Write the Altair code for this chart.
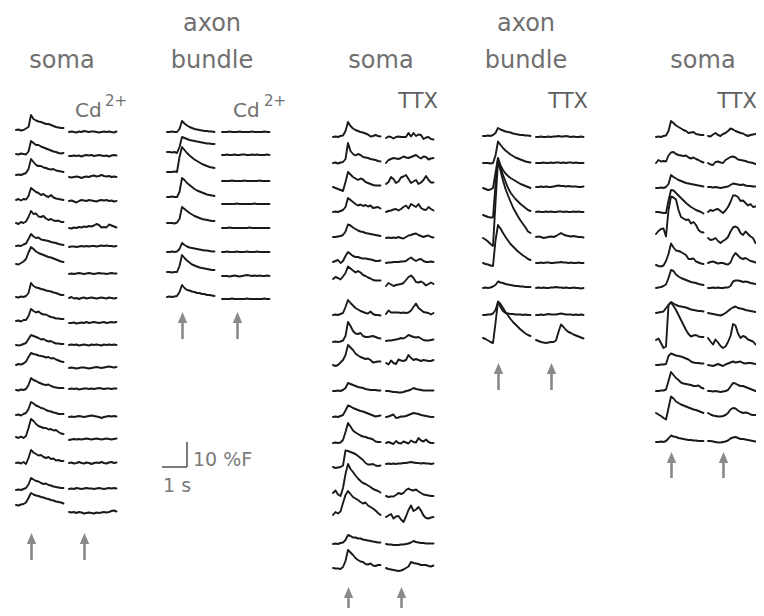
import altair as alt
import pandas as pd

# ---------------- data: dF/F traces in %F, one sample every 0.1 s ----------------
DT = 0.1

G1_SOMA = [
    [0,0.2,-0.2,0,0.6,1.2,6.0,4.4,3.8,3.4,3.2,2.8,2.4,2.4,2.0,1.6,1.2,1.0,0.8,0.8],
    [0,-0.2,0.2,0,-0.2,1.0,5.2,4.4,3.6,3.6,3.0,2.6,2.2,1.8,1.4,1.0,0.8,0.4,0.2,0.4],
    [0,0.2,0,0.4,0.8,2.4,6.4,5.2,4.0,3.6,3.6,3.0,2.8,2.4,2.2,2.4,1.8,1.6,1.4,1.2],
    [0,0.4,-0.2,0.4,0.2,1.6,4.8,4.0,3.2,2.8,2.0,2.4,1.6,1.2,2.0,1.0,0.6,0.4,0.2,0],
    [0,-0.4,0.4,0,0.6,2.4,4.8,3.6,3.8,2.6,2.4,2.8,1.8,1.2,1.6,1.0,0.8,1.0,0.4,0.4],
    [0,0.2,0,0.6,1.0,2.8,4.8,3.8,3.2,3.4,2.6,2.4,2.2,2.0,1.6,1.4,1.2,0.8,0.6,0.4],
    [0,-0.2,0.4,1.0,2.0,4.6,6.8,6.0,5.0,4.4,4.0,3.6,3.2,2.8,2.6,2.2,1.8,1.4,1.0,0.8],
    [0,-0.2,0.2,0,0.4,1.6,5.6,4.4,3.8,3.6,3.2,3.0,2.6,2.4,2.2,1.8,1.6,1.2,0.8,0.8],
    [0,0.2,-0.2,0.4,0.4,2.0,4.8,4.0,3.4,3.8,3.0,2.6,2.6,2.0,1.6,1.4,1.0,1.0,0.8,0.8],
    [0,-0.2,0,0.4,0.8,2.4,4.0,3.6,3.2,2.8,2.2,2.4,1.8,1.4,1.6,1.0,0.6,0.6,0.4,0.4],
    [0,0.4,0.2,0.6,1.4,3.2,4.8,4.4,4.2,3.8,3.6,3.4,3.0,3.2,2.6,2.8,2.2,1.8,1.4,1.2],
    [0,-0.2,0.2,0,0.4,2.0,4.8,4.0,3.6,3.0,2.6,2.2,2.0,2.2,1.6,1.2,1.0,0.8,0.8,0.8],
    [0,0.2,-0.2,0.4,0.8,2.4,5.2,4.6,3.8,3.4,2.8,2.6,2.0,1.6,1.4,1.0,0.8,0.4,0.4,0.4],
    [0,-0.4,0.2,-0.4,0.4,3.6,7.2,6.4,5.2,4.4,4.0,3.6,3.6,3.0,3.2,2.6,2.8,2.0,1.4,1.2],
    [0,0.2,-0.2,0.4,-0.4,2.0,5.2,4.2,3.6,3.0,3.2,2.4,2.0,2.4,1.6,1.8,1.0,1.2,0.8,0.8],
    [0,0.2,0,0.4,0.8,2.2,4.8,4.2,3.6,3.4,2.8,2.4,2.6,2.0,1.8,1.4,1.2,1.0,0.8,0.8],
    [0,-0.2,0.2,0.4,1.0,2.8,4.8,4.2,3.8,3.6,3.2,3.0,2.6,2.4,2.0,1.8,1.4,1.2,1.0,0.6],
]

G1_CD = [
    [0,0.2,0,-0.2,0.2,0,0.4,0.2,0,0.2,0.2,0,-0.2,0,0.2,0,0.2,0,-0.2,0.2],
    [0,0,0.2,0,0.2,-0.2,0.2,0.4,0.2,0.4,0,0.2,0.4,0.2,0,0.2,-0.2,0.2,0.4,0.2],
    [0,-0.2,0,0.2,0,-0.4,0,0.2,0,0.4,0.6,0.2,0.4,0.8,0.4,0.2,0.4,0,0.2,0],
    [0,0.2,-0.2,-0.6,0,0.4,0.2,0,0.4,0.2,0,-0.2,0.2,0.4,0.2,0.4,0,0.2,-0.2,0],
    [0,-0.2,0.2,0,0.4,0.2,0.6,0.4,0.8,0.6,1.0,1.6,1.2,0.2,0.4,0.2,1.4,1.0,0.6,0.2],
    [0,0.2,0.2,0,0.2,0.4,0.2,0.4,0.2,0.4,0.4,0.2,0.4,0.6,0.4,0.6,0.4,0.4,0.2,0.4],
    [0,0.2,0,0.2,0.4,0.2,0,0.2,0.4,0.2,0,0.2,0.4,0.2,0.2,0,0.2,0.4,0.2,0.2],
    [0,0.4,-0.2,0,-0.4,0,0.2,-0.2,0,0.2,0,-0.2,0,0.2,0,-0.2,0.2,0,-0.2,0],
    [0,0,0.2,-0.2,0,0.2,0,0.4,0,0.2,0.4,0.2,0,0.2,0.4,0,0.2,0.4,0.2,0.4],
    [0,0.2,0,0.2,-0.2,0,0.2,0,-0.2,0.2,0,0.2,0,-0.2,0.2,0,0.2,0,0.2,0],
    [0,0.2,0,-0.2,0,0.2,0.2,0,-0.2,0,0.2,0.4,0.2,0,0.2,0.4,0.6,0.4,0.2,0.4],
    [0,0.2,0,0.2,-0.2,0,0.2,0.2,0,0.2,0,0.2,0.4,0.2,0,0.2,0.2,0,0.2,0.2],
    [0,0.2,0,0.2,0.4,0.2,0,0.2,0.4,0.6,0.4,0.2,0,-0.4,0,0.2,0.4,0.2,0.4,0.2],
    [0,0.2,0.4,0.2,0.4,0.2,0.4,0.6,0.4,0.2,0.4,0.6,0.4,0.2,0.4,0.6,0.4,0.2,0.4,0.6],
    [0,0.2,-0.2,0,0.4,0,-0.2,0.2,0,-0.4,0,0.2,0,0.4,0,-0.2,0.2,0.4,0,0.2],
    [0,0.2,0,0.4,0.2,0,0.2,0.4,0.2,0.2,0,0.2,0.4,0.2,0,0.2,0.4,0.2,0.4,0.2],
    [0,-0.2,0,-0.4,0,-0.2,-0.6,-0.4,-0.2,-0.4,-0.6,-0.2,-0.4,-0.2,0,-0.2,0,0.4,0.6,0.2],
]

G2_AXON = [
    [0,0,0.2,0,0,1.2,4.4,3.4,2.6,2.0,1.6,1.2,1.0,0.8,0.6,0.4,0.4,0.2,0.2,0],
    [0,0,-0.2,0,-0.4,2.0,6.0,5.6,5.2,4.8,4.6,4.4,4.2,4.0,3.8,3.6,3.4,3.4,3.2,3.2],
    [0,0,0,0.2,0,6.0,10.0,8.8,7.6,6.6,5.8,5.0,4.4,3.8,3.2,2.8,2.4,2.0,1.8,1.6],
    [0,0,0.2,0,0,2.0,7.6,6.8,5.6,4.8,4.0,3.2,2.6,2.2,1.8,1.4,1.0,0.8,0.6,0.4],
    [0,0,0,-0.2,0.2,1.6,6.4,5.6,4.8,4.0,3.4,2.8,2.4,2.0,1.6,1.4,1.2,1.0,0.8,0.8],
    [0,0,0.2,0,0.2,1.2,3.6,2.8,2.2,1.8,1.6,1.4,1.2,1.0,0.8,0.6,0.6,0.4,0.2,0.2],
    [0,0,-0.2,0,0,2.4,6.8,5.6,4.6,3.8,3.0,2.6,2.2,1.8,1.6,1.4,1.2,1.0,0.8,0.8],
    [0,0.2,0,0.2,0.4,2.0,4.8,3.6,2.8,2.6,2.2,2.0,1.6,1.6,1.2,1.2,0.8,0.8,0.6,0.4],
]

G2_CD = [
    [0,0,0,0.2,0,0,0,0.2,0,0,0,0,0.2,0,0,0,0,0.2,0,0],
    [0,0,0.2,0,0,0.2,0,0,0.2,0.2,0,0,0.2,0,0.2,0,0,0,0.2,0],
    [0,0,0,0,0.2,0,0,0,0,0.2,0,0,0,0,0,0.2,0,0,0,0],
    [0,0,0,0,0,0,0.2,0,0,0,0,0,0,0.2,0,0,0,0,0,0],
    [0,0,0,0.2,0,0,0,0,0,0,0,0.2,0,0,0,0,0,0,0,0],
    [0,0,0.2,0,0,0,0.2,0,0,0,0.2,0,0,0,0.2,0,0,0,0,0],
    [0,0,0,-0.2,0,0.2,0,-0.2,0,0.2,0.4,0.2,0,0.2,0,0.2,0,0,0.2,0],
    [0,0,0,0,0.2,0,0,0,0,0,0.2,0,0,0,0,0,0,0.2,0,0],
]

G3_SOMA = [
    [0,0.2,0,0.4,0.6,2.4,6.0,4.4,3.4,2.8,2.4,2.0,1.8,1.4,1.0,0.2,0.4,0.8,0.4,0.2],
    [0,0.2,-0.2,0.2,0.4,1.6,8.0,4.8,3.6,3.0,3.6,3.2,2.4,2.2,2.0,1.6,1.4,1.2,0.8,0.6],
    [0,-0.4,-0.8,-1.2,-1.6,2.0,6.0,5.0,4.0,3.4,2.8,3.4,3.0,2.0,1.6,1.2,0.8,0.6,0.6,0.6],
    [0,0.2,0,0.4,0.8,2.0,5.6,4.8,4.0,3.2,2.6,3.0,2.4,2.8,2.2,2.6,1.6,1.8,2.0,1.4],
    [0,0,0.2,0.4,0.8,2.2,5.0,4.6,3.8,3.2,2.6,2.2,2.0,1.6,1.4,1.2,1.0,0.8,0.6,0.4],
    [0,0.4,0.8,-0.4,0.4,2.4,4.0,3.2,2.4,2.0,2.0,1.6,1.4,1.4,1.2,1.0,0.8,0.4,0.4,0.6],
    [0,0.8,0.4,-0.2,1.0,2.4,5.0,4.2,3.4,2.6,3.2,2.6,1.6,1.2,0.6,0.2,-0.4,-0.6,-0.6,-0.6],
    [0,0.2,0,0.4,0.8,3.2,6.0,4.8,3.8,2.8,2.2,1.6,1.2,0.8,0.6,1.4,0.4,0,0,-0.2],
    [0,0.2,0,0.2,0.6,2.4,8.0,6.4,4.4,3.4,3.2,3.6,2.4,2.0,2.0,2.2,2.4,2.0,1.6,1.4],
    [0,-0.4,0,1.0,2.0,4.0,8.0,7.0,6.0,4.6,3.8,3.2,2.8,2.4,2.6,2.0,1.0,1.2,1.4,1.4],
    [0,0,0.2,0,0.4,1.2,3.2,2.8,2.4,2.0,1.6,1.4,1.2,0.8,0.6,0.4,0.4,0.4,0.2,0.2],
    [0,0.2,0,0.4,0.8,2.6,4.6,4.2,3.6,3.2,2.8,2.4,2.2,1.8,1.4,1.0,0.6,0.2,0.4,0.6],
    [0,0.2,0,0.2,1.2,4.4,8.0,6.6,5.0,4.2,3.6,3.0,2.6,2.4,2.0,1.8,1.4,0.6,0.4,0.4],
    [0,-0.4,-0.2,0,0.6,6.6,6.4,6.0,5.6,5.2,4.4,3.6,2.8,1.6,1.0,1.0,1.2,0.6,0.4,0.6],
    [0,1.0,-0.6,-1.2,2.0,7.6,11.6,9.6,8.4,7.0,5.8,4.8,4.0,3.6,3.0,2.4,1.6,1.2,0.8,0.2],
    [0,1.2,0.6,1.4,4.8,8.0,9.6,8.4,7.2,6.6,6.0,5.2,4.6,5.0,3.8,3.2,2.6,1.8,0.8,0],
    [0,0.2,0,0.4,0.6,1.6,3.6,3.2,2.6,2.6,2.2,2.2,1.8,1.6,1.4,1.2,1.0,0.8,0.6,0.6],
    [0,-0.2,-0.2,-0.4,0.4,2.8,7.2,6.2,5.2,4.0,3.2,2.6,2.4,1.6,1.4,1.8,1.0,0.8,1.2,1.2],
]

G3_TTX = [
    [0,0.6,0.4,-0.2,0.4,0.6,0.4,0.4,0.4,2.0,0.6,2.0,0.8,1.4,1.2,-0.4,0.2,0.4,-0.4,-0.6],
    [0,1.2,1.6,2.0,1.8,1.6,2.0,2.6,2.2,2.0,2.4,2.8,3.2,2.4,1.8,2.6,2.4,1.4,1.8,2.0],
    [0,0.8,2.8,2.0,0.4,1.0,2.6,3.0,3.6,2.0,0.4,1.0,1.6,0,0.6,1.6,3.2,1.6,0.6,0.6],
    [0,0.4,0.6,1.0,1.2,0.6,1.2,2.0,2.6,1.4,3.2,2.6,2.0,3.2,1.6,1.0,0.8,2.0,1.2,0.6],
    [0,0.2,0,0.2,0,0.4,0,-0.2,0.4,1.0,1.2,1.6,1.8,1.2,0.8,0.4,0.8,1.0,0.4,0.2],
    [0,0.2,0.2,0.4,0.4,0.4,0.6,0.6,0.8,1.6,2.2,1.4,0.8,1.4,1.6,0.8,0.4,0.4,0.6,0.4],
    [0,1.2,0.6,0,0.4,0.6,0.8,1.2,2.4,3.6,4.2,3.2,1.6,1.4,1.8,1.2,0.2,0.8,1.4,0.8],
    [0,1.4,0.6,0.6,0.6,0.6,0.4,0.6,0.4,0.6,1.4,2.8,4.2,2.4,1.6,0.8,0.6,0.4,-0.2,0.4],
    [0,0.2,0.2,0.4,0.6,0.8,1.2,1.0,1.6,2.4,2.0,1.6,1.4,1.6,1.0,0.4,0.2,0.2,0.4,0.6],
    [0,-0.6,1.0,0,-0.4,1.4,1.0,0.8,1.2,3.2,2.0,1.2,1.6,1.2,0.8,1.2,1.0,0.8,0.8,1.2],
    [0,0,-0.2,-0.4,-0.4,-0.6,-0.6,-0.4,0,0.2,0.6,1.2,0.8,0.6,0.4,0.2,0.2,0.2,0.2,0.2],
    [0,0.2,0.6,1.0,-0.4,-0.2,0.2,0.2,0.4,0.8,1.2,1.6,1.4,1.2,0.8,0.6,0.4,0.2,0,0],
    [0,0.4,0,-0.4,0.8,0,-0.2,0.6,0.2,-0.2,1.0,0.4,0.2,2.0,1.0,0.6,1.4,0.4,0,0],
    [0,0.2,0,0.2,0,0.2,0.2,0.4,0.4,0.6,0.8,0.6,0.4,0.4,0.2,0.4,0.2,0.2,0,0.2],
    [0,-0.4,-0.2,-0.2,0.4,1.2,0.8,1.2,2.4,3.0,2.4,2.2,2.6,1.8,1.2,0.6,0.4,0.2,0,0],
    [0,0.6,1.2,-0.6,0.2,0.4,-1.0,-2.0,0.2,2.8,4.6,2.4,3.0,4.0,2.6,0.6,-0.4,-0.6,-0.2,0],
    [0,-0.2,-0.2,-0.4,-0.4,-0.4,-0.2,-0.2,0,0.2,0.6,1.2,0.8,0.6,0.4,0.4,0.2,0.2,0.2,0.2],
    [0,-0.4,-0.6,-0.8,-1.0,-1.2,-1.0,-0.6,0,0.6,2.4,2.0,1.8,1.6,1.2,1.2,1.2,0.8,0.6,1.0],
]

G4_AXON = [
    [0,0,0.2,0,0.4,1.2,3.2,2.6,2.2,1.8,1.6,1.4,1.0,0.8,0.6,0.4,0.4,0.2,0.2,0],
    [0,0,0,-0.2,0,3.0,8.6,7.2,6.0,5.0,4.2,3.4,2.8,2.2,1.8,1.4,1.0,0.6,0.4,0.2],
    [0,-0.4,-0.8,-0.6,0,6.0,12.0,9.0,7.2,5.8,4.8,4.0,3.4,2.8,2.2,1.6,1.2,0.8,0.4,0],
    [0,-0.4,-0.8,-1.0,-1.0,12.0,22.6,19.0,16.0,13.4,10.8,9.0,7.6,6.4,5.4,4.4,3.6,2.8,2.0,1.6],
    [0,-0.6,-1.4,-2.4,-3.2,14.0,31.0,27.0,23.0,19.6,17.0,14.6,12.2,10.4,8.6,7.0,5.6,4.2,2.6,2.0],
    [0,-0.4,-0.6,-1.0,-1.2,9.0,15.2,13.8,12.0,10.4,9.0,7.6,6.6,5.6,4.6,3.8,3.0,2.4,1.6,1.2],
    [0,0.2,0,0.2,0.6,1.2,2.6,2.2,2.0,1.6,1.4,1.2,1.0,0.8,0.8,0.6,0.6,0.4,0.4,0.4],
    [0,0,0.2,0.2,0.6,2.0,5.2,3.2,1.6,0.8,0.6,0.4,0.4,0.2,0.2,0.2,0,0.2,0,0],
    [0,-0.4,-1.0,-1.6,-2.0,6.0,14.6,13.6,12.0,10.4,9.0,7.6,6.4,5.4,4.4,3.4,2.6,1.8,1.2,0.8],
]

G4_TTX = [
    [0,0,0.2,0,0,0.2,0,0.2,0.2,0.4,0.2,0.2,0.4,0.2,0,0.2,0,0,0.2,0],
    [0,0,0,0.2,0,0,0.2,0,0.2,0.2,0,0.2,0,0.2,0.2,0,0.2,0,0,0],
    [0,0,0.2,0,0.2,0,0,0.2,0.4,0.6,0.4,0.4,0.2,0.4,0.2,0.2,0.2,0,0,0.2],
    [0,0.2,0,0,0.2,0,0.2,0,0,0.2,0.2,0,0.2,0,0,0.2,0,0.2,0,0],
    [0,0.2,0,-0.4,-0.2,0,0.2,0,0.4,1.0,1.6,1.0,0.6,0.4,0.2,0.4,0.2,0,0,-0.2],
    [0,0,0.2,0,0.2,0.2,0,0,0.2,0.2,0.4,0.2,0.2,0,0.2,0,0,0.2,0,0],
    [0,0.2,0,0.2,0,0,0.2,0.2,0.4,0.2,0.2,0,0.2,0,0,0.2,0,0,-0.2,0],
    [0,0,0.2,0,0.2,0.4,0.2,0.2,0.2,0.4,0.6,0.4,0.2,0.2,0.2,0,0.2,0,0.2,0],
    [0.8,0.4,0,-0.2,-0.4,-0.2,0,0,0.6,4.0,7.0,6.0,4.8,4.0,3.6,3.0,2.6,2.2,1.8,1.4],
]

G5_SOMA = [
    [0,0.2,0,0.4,0.6,2.4,6.4,5.6,4.6,4.0,3.4,2.8,2.4,1.6,1.8,2.0,1.2,1.0,0.8,0.8],
    [0,1.2,0.6,0.8,0.6,3.0,4.2,4.4,3.6,3.2,3.0,2.8,3.0,2.2,1.8,2.2,1.6,1.2,0.6,0.2],
    [0,0,0.2,0,0.4,1.6,5.2,4.4,3.8,3.2,2.8,2.4,2.0,1.8,1.6,1.4,1.2,1.0,0.8,0.6],
    [0,0,-0.2,-0.4,-0.4,4.6,8.8,8.6,7.6,6.6,5.6,4.6,3.6,2.8,2.0,1.4,0.8,0.4,0,-0.6],
    [0,1.2,2.0,2.2,-1.0,9.6,15.0,14.6,13.8,9.6,6.8,6.2,5.6,5.8,4.2,4.8,3.6,1.6,0.8,0.6],
    [0,-0.4,-0.6,-0.2,1.6,4.4,8.6,7.0,5.8,5.6,5.2,4.6,4.0,2.4,2.4,2.6,1.4,1.0,0.6,0.4],
    [0,0.2,0.4,0.8,1.4,4.0,7.2,6.8,5.4,4.6,4.0,3.6,3.2,2.8,2.4,2.2,2.0,1.6,1.4,1.2],
    [0,0.2,0.4,0.6,2.0,3.2,4.4,3.8,3.2,2.8,2.6,2.4,2.2,1.8,1.4,1.2,1.0,0.8,0.8,0.6],
    [0,0.6,-1.2,-3.2,-2.6,14.0,15.0,13.6,12.0,10.0,8.0,6.0,4.0,2.4,1.4,1.8,2.0,1.4,1.2,1.2],
    [0,0,0.2,0.2,0.4,3.6,4.6,4.2,3.8,3.6,3.4,3.0,2.6,2.2,1.4,1.0,0.8,0.8,0.6,0.6],
    [0,0,0.2,0.2,0.6,4.0,7.6,6.4,5.2,4.4,3.4,3.0,2.8,2.6,2.4,2.0,2.0,2.2,1.4,1.0],
    [0,-0.6,-1.2,-2.0,-2.6,2.0,6.6,5.8,4.6,4.0,3.4,3.0,2.6,2.2,1.8,1.4,1.2,0.8,0.4,0],
    [0,0,0.2,0,0.4,1.4,2.6,2.2,2.0,1.6,1.4,1.2,1.0,0.8,0.8,0.6,0.6,0.4,0.4,0.4],
]

G5_TTX = [
    [0,-0.2,0.6,1.2,0.4,0,0.8,1.2,2.0,3.0,2.6,2.0,1.6,1.2,1.0,0.4,0,0.4,0.6,0.8],
    [0,-0.6,-0.8,0.4,0.6,0.2,0,1.2,1.8,2.4,2.6,2.2,1.4,1.2,1.0,0.8,0.4,0.2,0,-0.4],
    [0,0,-0.2,0,-0.2,-0.4,-0.2,0,0.2,0.8,1.4,1.2,1.0,0.8,1.0,0.6,0.4,0.4,0.2,0.2],
    [0,0.8,0.4,1.0,1.2,0.4,-0.4,0.6,2.0,4.0,6.6,6.6,6.0,4.4,4.6,3.6,2.6,3.2,2.0,2.2],
    [0,-0.8,-0.6,0,-1.2,-2.0,-1.2,-0.6,0.4,2.6,4.2,4.6,4.0,2.0,1.2,2.6,1.6,0.6,0,-2.0],
    [0,0.4,0.6,0.2,-0.2,0,0,-0.4,-0.6,0.2,2.6,4.0,3.0,2.0,1.6,2.0,1.4,0.8,0.6,0.2],
    [0,0,0.2,0,0.2,0,0,0.2,0.2,0.8,2.6,3.0,3.0,2.8,2.4,2.6,2.4,2.0,1.8,1.6],
    [0,-0.2,-0.4,-0.6,-0.8,-1.0,-0.6,0,0.8,1.6,2.2,2.6,2.0,1.8,1.6,1.2,1.0,0.8,0.6,0.4],
    [0,-1.4,-2.6,-0.6,-1.8,-3.2,-4.0,-3.4,-1.6,0.8,5.6,5.0,1.8,0,0.8,0.4,-0.6,-1.0,-1.4,-2.6],
    [0,-0.2,-0.4,0,0.4,0,-0.4,0.2,0.6,1.0,1.4,1.0,1.2,1.4,0.8,0.6,0.8,0.8,0.6,0.4],
    [0,0,-0.2,0,-0.2,-0.4,-0.2,0,0.4,1.8,3.2,3.0,2.4,2.0,2.0,1.6,1.2,0.8,0.4,0],
    [0,-0.6,-1.0,-1.2,-1.4,-1.4,-1.2,-0.8,0,1.4,2.0,1.8,1.0,0.4,0,0.2,0,-0.6,-0.8,-0.8],
    [0,0,-0.2,-0.4,-0.6,-0.6,-0.4,-0.2,0.2,1.0,1.4,1.6,1.2,0.8,0.8,0.6,0.4,0.2,0,-0.2],
]

TITLES = ["soma", "axon", "bundle", "soma", "axon", "bundle", "soma"]
DRUGS = ["Cd", "Cd", "TTX", "TTX", "TTX"]
SCALE_LABELS = ["10 %F", "1 s"]
SCALE_BAR = (1.0, 10.0)   # 1 s, 10 %F

# ---------------- layout (reference pixel positions) ----------------
W, H = 748, 600
PX_PER_S, PX_PER_PCT = 25.0, 2.5


def sx(px):
    return (px - 8) / PX_PER_S


def sy(py):
    return -(py - 8) / PX_PER_PCT


COLUMNS = [
    (G1_SOMA, 16, [130,154,175,200,223,246,264,297,321,345,365,390,415,437,463,490,505]),
    (G1_CD, 69, [132,156,177,201,228,247,274,298,323,345,368,389,417,440,463,489,512]),
    (G2_AXON, 167, [132,152,172,197,223,252,272,297]),
    (G2_CD, 222, [132,155,181,204,228,252,276,299]),
    (G3_SOMA, 333, [137,163,187,212,237,262,279,315,342,365,391,417,443,467,493,515,544,568]),
    (G3_TTX, 386, [138,163,184,212,238,263,286,314,341,363,391,417,443,464,496,517,544,568]),
    (G4_AXON, 483, [136,163,188,215,238,263,288,315,338]),
    (G4_TTX, 536, [137,163,187,212,237,263,288,315,342]),
    (G5_SOMA, 656, [137,163,188,212,234,265,288,313,340,365,391,413,442]),
    (G5_TTX, 708, [136,163,187,212,238,263,288,313,338,365,391,413,441]),
]

rows = []
for ci, (traces, x0, bases) in enumerate(COLUMNS):
    for ti, (vals, base) in enumerate(zip(traces, bases)):
        for i, v in enumerate(vals):
            rows.append({"trace": f"{ci}-{ti}", "i": i,
                         "t": sx(x0) + i * DT, "f": sy(base) + v})
traces_df = pd.DataFrame(rows)

XS = alt.Scale(domain=[0, W / PX_PER_S], nice=False, zero=False)
YS = alt.Scale(domain=[-H / PX_PER_PCT, 0], nice=False, zero=False)
X = alt.X("t:Q", scale=XS, axis=None)
Y = alt.Y("f:Q", scale=YS, axis=None)

lines = alt.Chart(traces_df).mark_line(
    color="#1a1a1a", strokeWidth=1.9, strokeJoin="round", strokeCap="round"
).encode(x=X, y=Y, detail="trace:N", order="i:Q")

font = "DejaVu Sans"


def text_layer(texts, positions, size, color, align):
    df = pd.DataFrame([{"text": s, "t": sx(p[0]), "f": sy(p[1])}
                       for s, p in zip(texts, positions)])
    return alt.Chart(df).mark_text(
        font=font, fontSize=size, color=color, align=align, baseline="alphabetic"
    ).encode(x=X, y=Y, text="text:N")


titles = text_layer(TITLES,
                    [(62, 68), (212, 31), (212, 68), (381, 68), (526, 31), (526, 68), (703, 68)],
                    24, "#707070", "center")
ttx = text_layer(DRUGS[2:], [(438, 108), (588, 108), (757, 108)], 21, "#606060", "right")
cd = text_layer(DRUGS[:2], [(75, 117), (233, 117)], 20, "#707070", "left")
sup = text_layer(["2+", "2+"], [(105, 106), (264, 106)], 15, "#707070", "left")
labs = text_layer(SCALE_LABELS, [(193, 466), (163, 492)], 19, "#7a7a7a", "left")

# scale bar
corner_t, corner_f = sx(187), sy(467)
bar_df = pd.DataFrame([
    {"t": corner_t - SCALE_BAR[0], "t2": corner_t, "f": corner_f, "f2": corner_f},
    {"t": corner_t, "t2": corner_t, "f": corner_f, "f2": corner_f + SCALE_BAR[1]},
])
bar = alt.Chart(bar_df).mark_rule(color="#7a7a7a", strokeWidth=2).encode(
    x=X, x2="t2:Q", y=Y, y2="f2:Q"
)

# stimulus arrows (tip, tail in px)
STIM_S = 0.62
arrow_groups = [((0, 1), 533, 560), ((2, 3), 312, 339), ((4, 5), 587, 613),
                ((6, 7), 363, 390), ((8, 9), 452, 478)]
arr_rows = []
for cols, tip, tail in arrow_groups:
    for c in cols:
        arr_rows.append({"t": sx(COLUMNS[c][1]) + STIM_S, "f": sy(tip + 9),
                         "tail": sy(tail), "head": sy(tip + 5.5)})
arr_df = pd.DataFrame(arr_rows)
shafts = alt.Chart(arr_df).mark_rule(color="#8a8a8a", strokeWidth=2.6).encode(
    x=X, y=Y, y2="tail:Q"
)
heads = alt.Chart(arr_df).mark_point(
    shape="M0,-1L0.85,1L-0.85,1Z", filled=True, size=121, color="#8a8a8a",
    opacity=1, strokeWidth=0
).encode(x=X, y=alt.Y("head:Q", scale=YS, axis=None))

chart = alt.layer(lines, titles, ttx, cd, sup, bar, labs, shafts, heads).properties(
    width=W, height=H, padding=0,
    autosize=alt.AutoSizeParams(type="none"),
    background="white",
).configure_view(stroke=None)

chart.save("out.html", embed_options={"renderer": "svg", "actions": False})
